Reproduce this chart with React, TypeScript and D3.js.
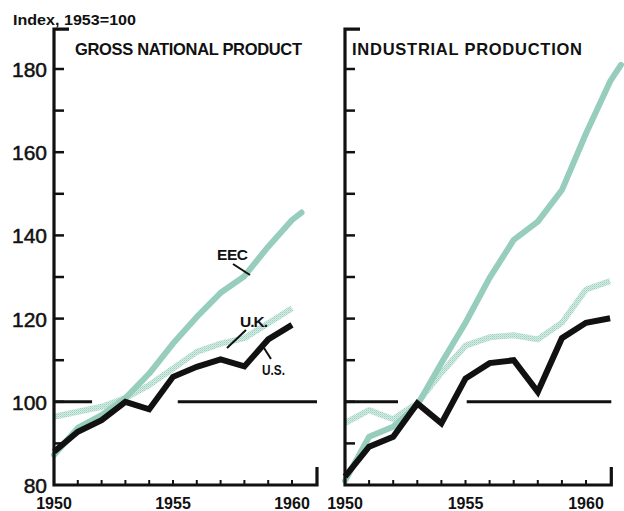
import React from "react";
import * as d3 from "d3";

const gnpYears = [1950, 1951, 1952, 1953, 1954, 1955, 1956, 1957, 1958, 1959, 1960];
const gnpUS = [88, 92.8, 95.6, 100, 98.2, 106, 108.4, 110.2, 108.5, 115, 118.5];
const gnpUK = [96.4, 97.6, 98.8, 100.9, 104, 108, 112, 114, 115.3, 118.9, 122.5];
const gnpEECYears = [1950, 1951, 1952, 1953, 1954, 1955, 1956, 1957, 1958, 1959, 1960, 1960.4];
const gnpEEC = [87.2, 93.7, 96.8, 100.9, 106.8, 114, 120.4, 126.2, 130.2, 137.3, 143.7, 145.5];

const ipYears = [1950, 1951, 1952, 1953, 1954, 1955, 1956, 1957, 1958, 1959, 1960, 1961];
const ipUS = [82, 89.2, 91.6, 99.6, 94.8, 105.6, 109.3, 110, 102.4, 115.3, 119, 120.1];
const ipUK = [94.9, 98, 95.8, 99.7, 107, 113.5, 115.5, 116, 115, 119, 127, 129];
const ipEECYears = [1950, 1951, 1952, 1953, 1954, 1955, 1956, 1957, 1958, 1959, 1960, 1961, 1961.45];
const ipEEC = [81, 91.6, 94, 99.2, 109.3, 119, 129.8, 138.9, 143.3, 150.9, 164.5, 177, 181];

const yTicks = [80, 100, 120, 140, 160, 180];
const yMinor = [90, 100, 110, 120, 130, 140, 150, 160, 170, 180];
const xLabels = [1950, 1955, 1960];
const xTicks = [1951, 1952, 1953, 1954, 1955, 1956, 1957, 1958, 1959, 1960];

const TEAL = "#96cdbd";
const FONT = "'Liberation Sans', Arial, sans-serif";

const y = d3.scaleLinear().domain([80, 180]).range([485, 69]);

type PanelProps = {
  x0: number;
  x1960: number;
  title: string;
  titleLen: number;
  titleX: number;
  usYears: number[];
  us: number[];
  ukYears: number[];
  uk: number[];
  eecYears: number[];
  eec: number[];
  gap: [number, number];
};

function Panel(p: PanelProps) {
  const x = d3.scaleLinear().domain([1950, 1960]).range([p.x0, p.x1960]);
  const xEnd = x(1961.05);
  const line = d3
    .line<[number, number]>()
    .x((d) => x(d[0]))
    .y((d) => y(d[1]));
  const pts = (ys: number[], vs: number[]) => ys.map((yr, i) => [yr, vs[i]] as [number, number]);
  const topY = y(189.6);
  return (
    <g>
      <line x1={x(1950)} x2={x(p.gap[0])} y1={y(100)} y2={y(100)} stroke="#111" strokeWidth={3} />
      <line x1={x(p.gap[1])} x2={xEnd} y1={y(100)} y2={y(100)} stroke="#111" strokeWidth={3} />
      <path
        d={line(pts(p.ukYears, p.uk)) || ""}
        fill="none"
        stroke="url(#stipple)"
        strokeWidth={6}
        strokeLinejoin="round"
      />
      <path d={line(pts(p.eecYears, p.eec)) || ""} fill="none" stroke={TEAL} strokeWidth={6} strokeLinejoin="round" strokeLinecap="round" />
      <path d={line(pts(p.usYears, p.us)) || ""} fill="none" stroke="#111" strokeWidth={6} strokeLinejoin="miter" />
      <path
        d={`M${x(1950) + 15},${topY}H${x(1950)}V${y(80)}H${xEnd}V${y(80) - 18}`}
        fill="none"
        stroke="#111"
        strokeWidth={3.2}
      />
      {yMinor.map((v) => (
        <line key={v} x1={x(1950)} x2={x(1950) + 10} y1={y(v)} y2={y(v)} stroke="#111" strokeWidth={2.5} />
      ))}
      {xTicks.map((t) => (
        <line key={t} x1={x(t)} x2={x(t)} y1={y(80)} y2={y(80) - 5} stroke="#111" strokeWidth={2} />
      ))}
      {xLabels.map((t) => (
        <text
          key={t}
          x={x(t)}
          y={509}
          textAnchor="middle"
          fontFamily={FONT}
          fontWeight="bold"
          fontSize={16}
          fill="#111"
        >
          {t}
        </text>
      ))}
      <text
        x={p.titleX}
        y={55}
        fontFamily={FONT}
        fontWeight="bold"
        fontSize={16.5}
        textLength={p.titleLen}
        lengthAdjust="spacing"
        fill="#111"
      >
        {p.title}
      </text>
    </g>
  );
}

export default function App() {
  return (
    <svg
      width={624}
      height={511}
      style={{ position: "absolute", left: 0, top: 0, background: "#fff" }}
    >
      <defs>
        <pattern id="stipple" width={2} height={2} patternUnits="userSpaceOnUse">
          <rect width={2} height={2} fill="#d6ede5" />
          <rect width={1} height={1} fill="#9ccfbe" />
          <rect x={1} y={1} width={1} height={1} fill="#b6ddd0" />
        </pattern>
      </defs>
      <rect width={624} height={511} fill="#fff" />
      <text x={13} y={25} fontFamily={FONT} fontWeight="bold" fontSize={14.5} textLength={123} lengthAdjust="spacingAndGlyphs" fill="#111">
        Index, 1953=100
      </text>
      {yTicks.map((v) => (
        <text
          key={v}
          x={47}
          y={y(v) + 8}
          textAnchor="end"
          fontFamily={FONT}
          fontSize={21}
          fill="#111"
          stroke="#111"
          strokeWidth={0.5}
        >
          {v}
        </text>
      ))}
      <Panel
        x0={54}
        x1960={292}
        title="GROSS NATIONAL PRODUCT"
        titleLen={227}
        titleX={75}
        usYears={gnpYears}
        us={gnpUS}
        ukYears={gnpYears}
        uk={gnpUK}
        eecYears={gnpEECYears}
        eec={gnpEEC}
        gap={[1951.6, 1955.2]}
      />
      <Panel
        x0={345}
        x1960={586}
        title="INDUSTRIAL PRODUCTION"
        titleLen={230}
        titleX={352}
        usYears={ipYears}
        us={ipUS}
        ukYears={ipYears}
        uk={ipUK}
        eecYears={ipEECYears}
        eec={ipEEC}
        gap={[1952.2, 1955.05]}
      />
      <text x={217} y={260} fontFamily={FONT} fontWeight="bold" fontSize={15.5} textLength={31} lengthAdjust="spacing" fill="#111">EEC</text>
      <line x1={233} y1={264} x2={250} y2={275} stroke="#111" strokeWidth={2} />
      <text x={240} y={327} fontFamily={FONT} fontWeight="bold" fontSize={15.5} textLength={28} lengthAdjust="spacing" fill="#111">U.K.</text>
      <line x1={246} y1={330} x2={227} y2={348} stroke="#111" strokeWidth={2} />
      <text x={262} y={375} fontFamily={FONT} fontWeight="bold" fontSize={15.5} textLength={23} lengthAdjust="spacingAndGlyphs" fill="#111">U.S.</text>
      <line x1={264} y1={348} x2={271} y2={359} stroke="#111" strokeWidth={2} />
    </svg>
  );
}
